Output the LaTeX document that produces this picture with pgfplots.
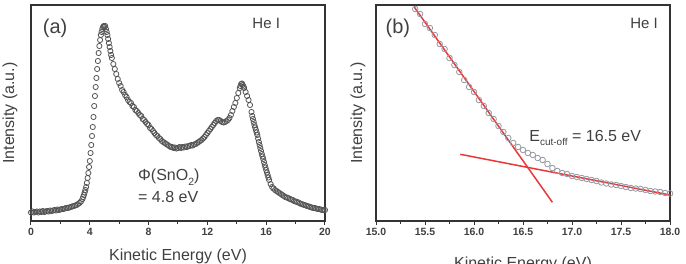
\documentclass[border=0pt]{standalone}
\usepackage{pgfplots}
\pgfplotsset{compat=1.18}
\usepackage{fontspec}
\setmainfont{Liberation Sans}
\definecolor{txt}{HTML}{404040}
\definecolor{frame}{HTML}{333333}
\definecolor{mkA}{HTML}{555555}
\definecolor{mkB}{HTML}{9598A2}
\definecolor{fitred}{HTML}{E8393A}
\pgfplotsset{
  panel/.style={
    scale only axis, width=294pt, height=216pt,
    ymin=0, ymax=216, ytick=\empty,
    axis line style={frame, line width=1.3pt},
    xtick pos=bottom, tick align=outside,
    major tick length=4pt, minor tick length=2.5pt,
    every tick/.style={frame, line width=1pt},
    minor x tick num=1,
    /pgf/number format/assume math mode=true,
    xticklabel style={font=\bfseries\fontsize{10.5}{11}\selectfont, text=txt, inner sep=0pt, yshift=-3pt},
    every axis x label/.style={at={(axis description cs:0.5,-0.1296)}, anchor=north, inner sep=0pt, font=\fontsize{16}{17}\selectfont, text=txt},
    every axis y label/.style={rotate=90, anchor=center, font=\fontsize{16}{17}\selectfont, text=txt},
    clip=true,
  }
}
\begin{document}
\begin{tikzpicture}
\useasboundingbox (-31pt,-42pt) rectangle (655pt,221pt);
% ---------- panel (a)
\begin{axis}[panel, at={(0pt,0pt)}, anchor=south west,
  xmin=0, xmax=20, xtick={0,4,8,12,16,20},
  xlabel={Kinetic Energy (eV)}, ylabel={Intensity (a.u.)},
  ylabel style={at={(axis description cs:-0.0714,0.5)}}]
\addplot[only marks, mark=o, mark size=2.6pt, mark options={draw=mkA, line width=0.8pt, fill=white}] coordinates {
(0.0,8.5)(0.1,9.5)(0.2,8.5)(0.3,9)(0.4,9.5)(0.5,8.5)(0.6,9.5)(0.7,9)(0.8,10)(0.9,9)
(1.0,9.5)(1.1,10)(1.2,9.5)(1.3,10.5)(1.4,10)(1.5,10.5)(1.6,11)(1.7,10.5)(1.8,11.5)(1.9,11)
(2.0,11.5)(2.1,12)(2.2,12)(2.3,12.5)(2.4,13)(2.5,13)(2.6,13.5)(2.7,14)(2.8,14.5)(2.9,15)
(3.0,15.5)(3.1,16)(3.2,17)(3.3,18)(3.4,19.5)(3.5,22)(3.55,24)(3.6,26)(3.65,28.5)(3.7,31)
(3.75,34)(3.8,38)(3.85,43)(3.9,48)(3.95,54)(4.0,60)(4.05,68)(4.1,76)(4.15,85)(4.2,94)
(4.25,104)(4.3,115)(4.35,125)(4.4,134)(4.45,143)(4.5,152)(4.55,160)(4.6,168)(4.65,175)(4.7,181)
(4.75,186)(4.8,189)(4.85,192)(4.9,194)(4.95,195)(5.0,194)(5.05,195)(5.1,192)(5.15,189)(5.2,186)
(5.25,182)(5.3,178)(5.35,174)(5.4,170)(5.45,166)(5.5,163)(5.6,157)(5.7,152)(5.8,147)(5.9,142)
(6.0,138)(6.1,135)(6.2,131)(6.3,129)(6.4,126)(6.5,124)(6.6,121)(6.7,119)(6.8,118)(6.9,115)
(7.0,114)(7.1,111)(7.2,110)(7.3,108)(7.4,106)(7.5,105)(7.6,102)(7.7,101)(7.8,99)(7.9,97)
(8.0,96)(8.1,93)(8.2,92)(8.3,90)(8.4,88)(8.5,86)(8.6,85)(8.7,83)(8.8,82)(8.9,80)
(9.0,79)(9.1,78)(9.2,77)(9.3,76)(9.4,75)(9.5,74)(9.6,74)(9.7,73)(9.8,73.5)(9.9,72.5)
(10.0,73)(10.1,74)(10.2,73)(10.3,74)(10.4,73.5)(10.5,74.5)(10.6,74)(10.7,75)(10.8,75)(10.9,76)
(11.0,75.5)(11.1,76.5)(11.2,77)(11.3,78)(11.4,79)(11.5,80)(11.6,81)(11.7,82.5)(11.8,84)(11.9,86)
(12.0,88)(12.1,90)(12.2,92)(12.3,94)(12.4,96)(12.5,98)(12.6,100)(12.7,101)(12.8,101)(12.9,100)
(13.0,99)(13.1,98.5)(13.2,99)(13.3,100)(13.4,101)(13.5,103)(13.6,106)(13.7,110)(13.8,114)(13.9,118)
(14.0,123)(14.1,128)(14.2,133)(14.25,135)(14.3,137)(14.35,137.5)(14.4,136)(14.45,134.5)(14.5,133)(14.6,129)
(14.7,125)(14.8,121)(14.9,116)(15.0,109)(15.05,105)(15.1,102)(15.15,99)(15.2,96)(15.25,93.5)(15.3,91)
(15.35,88.5)(15.4,86)(15.45,82.5)(15.5,79)(15.55,76)(15.6,73)(15.65,70)(15.7,67)(15.75,64.5)(15.8,62)
(15.85,59)(15.9,56)(15.95,53.5)(16.0,51)(16.05,48.5)(16.1,46)(16.15,43.5)(16.2,41)(16.3,37)(16.4,34)
(16.5,32.5)(16.6,31)(16.7,30)(16.8,29)(16.9,28)(17.0,27)(17.1,26)(17.2,25)(17.3,24)(17.4,23.5)
(17.5,23)(17.6,22)(17.7,21.5)(17.8,21)(17.9,20)(18.0,19.5)(18.1,19)(18.2,18.5)(18.3,17.5)(18.4,17)
(18.5,16.5)(18.6,16)(18.7,15.5)(18.8,15)(18.9,14.5)(19.0,14)(19.1,13.5)(19.2,13)(19.3,13)(19.4,12.5)
(19.5,12)(19.6,12)(19.7,11.5)(19.8,11)(19.9,11)(20.0,11)
};
\node[font=\fontsize{20}{20}\selectfont, text=txt] at (rel axis cs:0.082,0.894) {(a)};
\node[font=\fontsize{15}{15}\selectfont, text=txt] at (rel axis cs:0.80,0.917) {He I};
\node[font=\fontsize{16}{16}\selectfont, text=txt, anchor=west, inner sep=0pt] at (rel axis cs:0.364,0.204) {Φ(SnO\raisebox{-0.3em}{\fontsize{10.5}{10.5}\selectfont 2})};
\node[font=\fontsize{16}{16}\selectfont, text=txt, anchor=west, inner sep=0pt] at (rel axis cs:0.364,0.109) {= 4.8 eV};
\end{axis}
% ---------- panel (b)
\begin{axis}[panel, at={(345pt,0pt)}, anchor=south west,
  xmin=15, xmax=18, xtick={15,15.5,16,16.5,17,17.5,18},
  xticklabels={15.0,15.5,16.0,16.5,17.0,17.5,18.0},
  xlabel={Kinetic Energy (eV)}, ylabel={Intensity (a.u.)},
  xlabel style={at={(axis description cs:0.5,-0.1667)}},
  ylabel style={at={(axis description cs:-0.061,0.5)}}]
\addplot[only marks, mark=o, mark size=2.8pt, mark options={draw=mkB, line width=0.8pt, fill=white}] coordinates {
(15.40,212)(15.45,207)(15.50,197)(15.55,193)(15.60,186)(15.65,177)(15.70,172)(15.75,163)(15.80,156)(15.85,149)
(15.90,141)(15.95,134)(16.00,129)(16.05,121)(16.10,115)(16.15,108)(16.20,102)(16.25,95)(16.30,89)(16.35,83)
(16.40,78)(16.45,74)(16.50,71)(16.55,68)(16.60,66)(16.65,63)(16.70,61)(16.75,57)(16.80,53)(16.85,50)
(16.90,48)(16.95,47)(17.00,45)(17.05,44)(17.10,43)(17.15,42)(17.20,41)(17.25,40)(17.30,38.5)(17.35,37.5)
(17.40,36.5)(17.45,36)(17.50,35)(17.55,34)(17.60,33)(17.65,32.5)(17.70,32)(17.75,31)(17.80,30)(17.85,29.5)
(17.90,29)(17.95,28)(18.00,27.5)
};
\addplot[fitred, line width=1.5pt] coordinates {(15.39,214) (16.80,18.7)};
\addplot[fitred, line width=1.5pt] coordinates {(15.86,66.7) (18.0,26)};
\node[font=\fontsize{20}{20}\selectfont, text=txt] at (rel axis cs:0.0746,0.894) {(b)};
\node[font=\fontsize{15}{15}\selectfont, text=txt] at (rel axis cs:0.912,0.917) {He I};
\node[font=\fontsize{16}{16}\selectfont, text=txt, anchor=west, inner sep=0pt] at (rel axis cs:0.521,0.384) {E\raisebox{-0.3em}{\fontsize{10}{10}\selectfont cut-off} = 16.5 eV};
\end{axis}
\end{tikzpicture}
\end{document}
